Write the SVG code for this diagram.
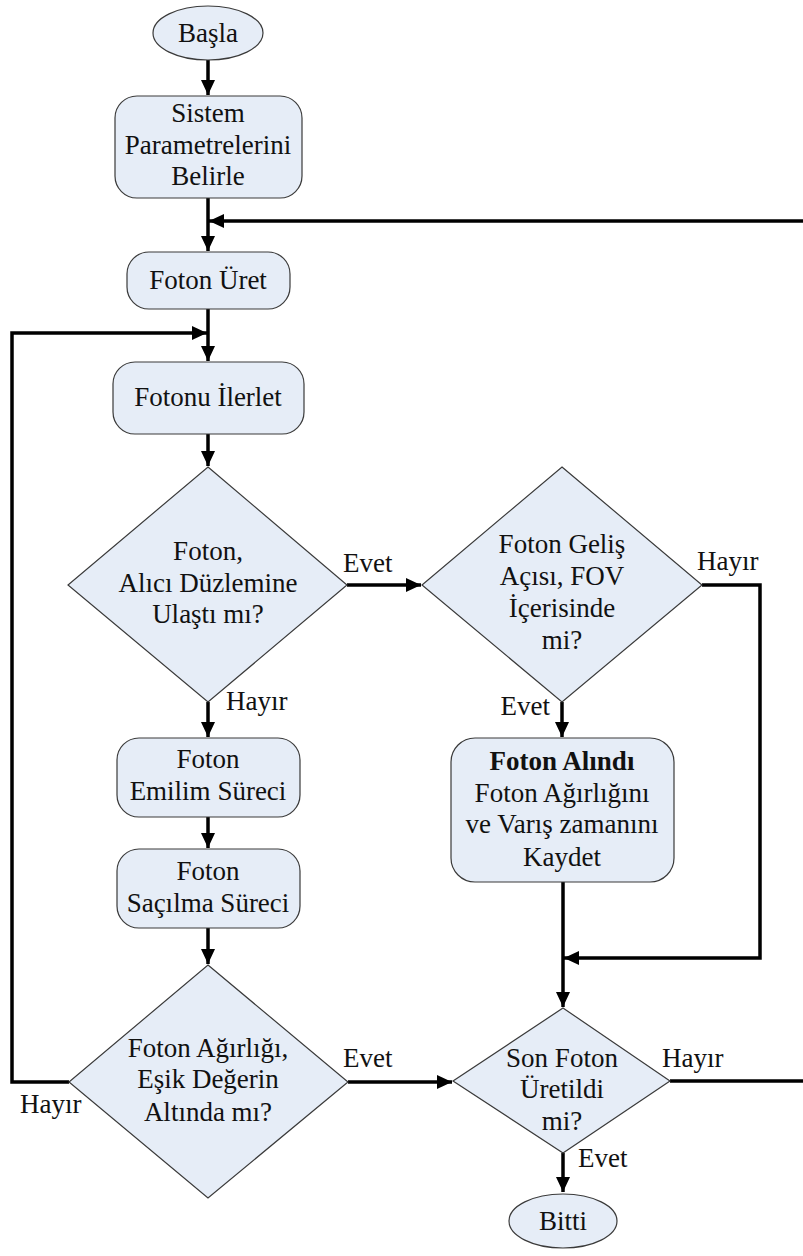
<svg xmlns="http://www.w3.org/2000/svg" width="803" height="1256" viewBox="0 0 803 1256">
<style>
.s{fill:#e6edf7;stroke:#3a3a3a;stroke-width:1.2}
.t{font-size:27px;fill:#111;text-anchor:middle}
.l{font-size:27px;fill:#111}
.c{fill:none;stroke:#000;stroke-width:3.5}
</style>
<defs>
<marker id="a" markerUnits="userSpaceOnUse" markerWidth="16" markerHeight="14" refX="15" refY="7" orient="auto">
<path d="M0,0 L15,7 L0,14 z" fill="#000"/>
</marker>
</defs>
<rect width="803" height="1256" fill="#fff"/>
<g id="connectors">
<path class="c" d="M208,60 V95" marker-end="url(#a)"/>
<path class="c" d="M208,198 V251" marker-end="url(#a)"/>
<path class="c" d="M803,221 H209" marker-end="url(#a)"/>
<path class="c" d="M208,309 V361" marker-end="url(#a)"/>
<path class="c" d="M69,1082 H12 V333 H207" marker-end="url(#a)"/>
<path class="c" d="M208,434 V466" marker-end="url(#a)"/>
<path class="c" d="M347,585 H421" marker-end="url(#a)"/>
<path class="c" d="M208,702 V737" marker-end="url(#a)"/>
<path class="c" d="M208,817 V848" marker-end="url(#a)"/>
<path class="c" d="M208,928 V964" marker-end="url(#a)"/>
<path class="c" d="M562,702 V737" marker-end="url(#a)"/>
<path class="c" d="M702,585 H760 V958 H564" marker-end="url(#a)"/>
<path class="c" d="M563,882 V1007" marker-end="url(#a)"/>
<path class="c" d="M348,1082 H452" marker-end="url(#a)"/>
<path class="c" d="M670,1081 H803"/>
<path class="c" d="M563,1153 V1192" marker-end="url(#a)"/>
</g>
<g font-family="'Liberation Serif', 'DejaVu Serif', serif">
<g id="basla">
<ellipse class="s" cx="208" cy="33" rx="55" ry="27"/>
<text class="t" x="208" y="42">Başla</text>
</g>
<g id="sistem">
<rect class="s" x="115" y="96" width="187" height="102" rx="22"/>
<text class="t" x="208" y="122">Sistem</text>
<text class="t" x="208" y="154">Parametrelerini</text>
<text class="t" x="208" y="185">Belirle</text>
</g>
<g id="foton-uret">
<rect class="s" x="127" y="252" width="163" height="57" rx="22"/>
<text class="t" x="208" y="289">Foton Üret</text>
</g>
<g id="fotonu-ilerlet">
<rect class="s" x="113" y="362" width="191" height="72" rx="22"/>
<text class="t" x="208" y="406">Fotonu İlerlet</text>
</g>
<g id="d1">
<polygon class="s" points="208,467 347,585 208,702 68,585"/>
<text class="t" x="208" y="560">Foton,</text>
<text class="t" x="208" y="592">Alıcı Düzlemine</text>
<text class="t" x="208" y="623">Ulaştı mı?</text>
</g>
<g id="d2">
<polygon class="s" points="562,467 702,585 562,702 422,585"/>
<text class="t" x="562" y="553">Foton Geliş</text>
<text class="t" x="562" y="585">Açısı, FOV</text>
<text class="t" x="562" y="617">İçerisinde</text>
<text class="t" x="562" y="649">mi?</text>
</g>
<g id="emilim">
<rect class="s" x="117" y="738" width="183" height="79" rx="22"/>
<text class="t" x="208" y="768">Foton</text>
<text class="t" x="208" y="800">Emilim Süreci</text>
</g>
<g id="sacilma">
<rect class="s" x="117" y="849" width="183" height="79" rx="22"/>
<text class="t" x="208" y="880">Foton</text>
<text class="t" x="208" y="912">Saçılma Süreci</text>
</g>
<g id="alindi">
<rect class="s" x="451" y="738" width="223" height="144" rx="24"/>
<text class="t" x="562" y="770" font-weight="bold">Foton Alındı</text>
<text class="t" x="562" y="802">Foton Ağırlığını</text>
<text class="t" x="562" y="833">ve Varış zamanını</text>
<text class="t" x="562" y="866">Kaydet</text>
</g>
<g id="d3">
<polygon class="s" points="208,965 348,1082 208,1198 69,1082"/>
<text class="t" x="208" y="1057">Foton Ağırlığı,</text>
<text class="t" x="208" y="1088">Eşik Değerin</text>
<text class="t" x="208" y="1121">Altında mı?</text>
</g>
<g id="d4">
<polygon class="s" points="563,1008 670,1081 563,1153 453,1081"/>
<text class="t" x="562" y="1067">Son Foton</text>
<text class="t" x="562" y="1098">Üretildi</text>
<text class="t" x="562" y="1130">mi?</text>
</g>
<g id="bitti">
<ellipse class="s" cx="563" cy="1221" rx="54" ry="27"/>
<text class="t" x="563" y="1230">Bitti</text>
</g>
<g id="labels">
<text class="l" x="343" y="572">Evet</text>
<text class="l" x="697" y="570">Hayır</text>
<text class="l" x="226" y="710">Hayır</text>
<text class="l" x="550" y="715" text-anchor="end">Evet</text>
<text class="l" x="343" y="1067">Evet</text>
<text class="l" x="20" y="1113">Hayır</text>
<text class="l" x="662" y="1067">Hayır</text>
<text class="l" x="578" y="1167">Evet</text>
</g>
</g>
</svg>
